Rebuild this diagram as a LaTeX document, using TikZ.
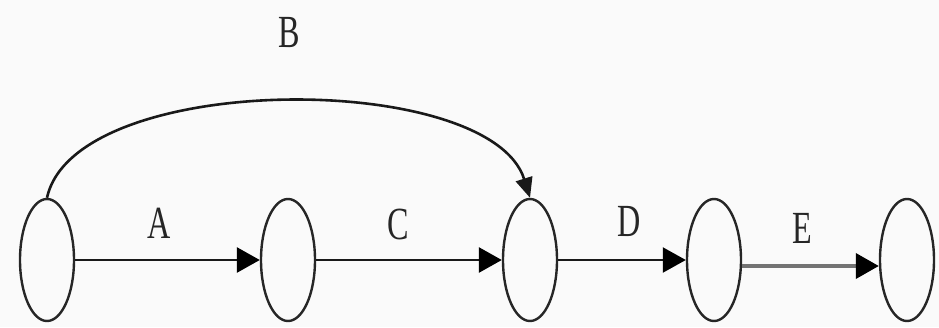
\documentclass[tikz,border=0pt]{standalone}
\usepackage{fontspec}
\setmainfont{Liberation Serif}
\usetikzlibrary{arrows.meta,shapes.geometric}
\tikzset{
  event/.style={ellipse, draw=black!85, line width=2.4pt, minimum width=54pt,
                minimum height=122pt, inner sep=0pt},
  act/.style={draw=black!90, line width=2.8pt, -{Triangle[length=23pt,width=25pt,color=black]}},
  lbl/.style={inner sep=0pt, text=black!85, font=\fontsize{46}{46}\selectfont}
}
\newcommand{\narrow}[1]{\scalebox{0.7}[1]{#1}}
\begin{document}
\begin{tikzpicture}[x=1pt,y=-1pt]
  \fill[black!2] (0,0) rectangle (939,327);
  \useasboundingbox (0,0) rectangle (939,327);

  % events
  \node[event] (e1) at (47,260) {};
  \node[event] (e2) at (288,260) {};
  \node[event] (e3) at (530,260) {};
  \node[event] (e4) at (714,260) {};
  \node[event] (e5) at (907,260) {};

  % activities
  \draw[act] (e1.east) -- (e2.west);
  \draw[act] (e2.east) -- (e3.west);
  \draw[act, line width=2.2pt] (e3.east) -- (e4.west);
  \draw[act, draw=black!55, line width=3.8pt] ([yshift=-6pt]e4.east) -- ([yshift=-6pt]e5.west);
  \draw[line width=2.6pt, draw=black!90, -{Triangle[length=20pt,width=17pt]}]
    (e1.north) .. controls (75,70) and (490,70) .. (e3.north);

  % activity labels
  \node[lbl] (la) at (159,223) {\narrow{A}};
  \node[lbl] (lb) at (289,33) {\narrow{B}};
  \node[lbl] (lc) at (398,224) {\narrow{C}};
  \node[lbl] (ld) at (629,221) {\narrow{D}};
  \node[lbl] (le) at (802,228) {\narrow{E}};
\end{tikzpicture}
\end{document}
